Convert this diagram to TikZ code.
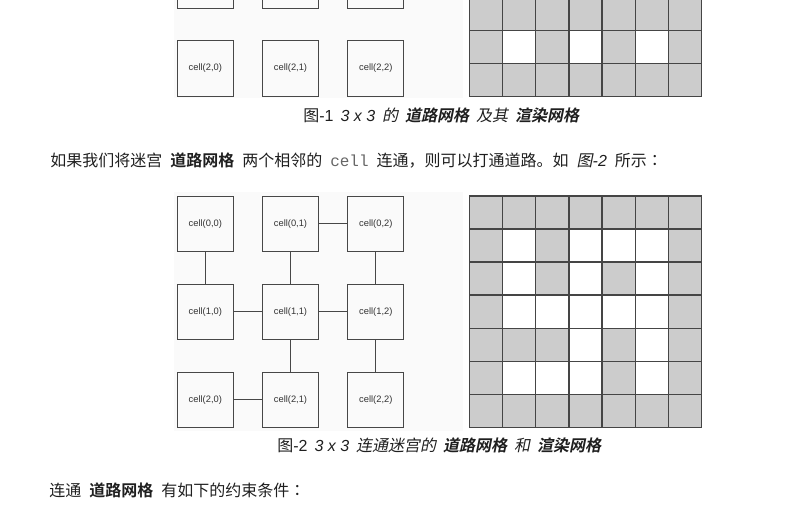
\documentclass[tikz,border=0pt]{standalone}
\usepackage{fontspec}
\setmainfont{Liberation Sans}
\newfontfamily\cjk{Noto Sans CJK SC}[BoldFont={Noto Sans CJK SC Bold}, ItalicFont={Noto Sans CJK SC}, ItalicFeatures={FakeSlant=0.2}, BoldItalicFont={Noto Sans CJK SC Bold}, BoldItalicFeatures={FakeSlant=0.2}]
\newfontfamily\cjktc{Noto Sans CJK TC}
\newfontfamily\latin{Liberation Sans}
\newfontfamily\mono{Liberation Mono}
\newcommand\zh[1]{{\cjk #1}}
\newcommand\capgap{\hspace{5.25pt}}
\newcommand\pgap{\hspace{6pt}}
\newcommand\zhcolon{{\cjktc ：}}
\definecolor{gridfill}{HTML}{CCCCCC}
\definecolor{gridline}{HTML}{454545}
\begin{document}
\begin{tikzpicture}[x=0.75pt,y=-0.75pt,
  cellbox/.style={draw=black!72, line width=0.8pt, minimum width=42pt, minimum height=41.5pt, inner sep=0pt, font=\latin\fontsize{7}{8}\selectfont, text=black!80},
  link/.style={draw=black!72, line width=0.75pt},
  gline/.style={draw=gridline, line width=1pt},
  txt/.style={anchor=west, inner sep=0pt, text=black!88, font=\fontsize{12}{14}\selectfont}]
\useasboundingbox (0,0) rectangle (812,508);
\fill[black!2] (174,0) rectangle (463,98);
\fill[black!2] (174,192) rectangle (463,431);

% ---------- figure 1, road grid (bottom rows only visible)
\foreach \c/\x in {0/205.3,1/290.5,2/375.8}{
  \node[cellbox] (a1\c) at (\x,-19.5) {};
  \node[cellbox] (a2\c) at (\x,68.5) {cell(2,\c)};
}

% ---------- figure 1, render grid
\fill[gridfill] (469.3,-134.65) rectangle (701.7,96.7);
\foreach \r/\c in {5/1,5/3,5/5}
  \fill[white] ({469.3+\c*33.2},{-134.65+\r*33.05}) rectangle ++(33.2,33.05);
\foreach \i in {0,...,7}{
  \draw[gline] ({469.3+\i*33.2},-134.65) -- ++(0,231.35);
  \draw[gline] (469.3,{-134.65+\i*33.05}) -- ++(232.4,0);
}

% ---------- figure 2, road grid
\foreach \r/\y in {0/223.8,1/311.8,2/399.8}{
  \foreach \c/\x in {0/205.3,1/290.5,2/375.8}{
    \node[cellbox] (b\r\c) at (\x,\y) {cell(\r,\c)};
  }
}
\foreach \u/\v in {b00/b10,b01/b02,b01/b11,b02/b12,b10/b11,b11/b12,b11/b21,b12/b22,b20/b21}
  \draw[link] (\u) -- (\v);

% ---------- figure 2, render grid
\fill[gridfill] (469.3,196) rectangle (701.7,427.35);
\foreach \r/\c in {1/1,1/3,1/4,1/5,2/1,2/3,2/5,3/1,3/2,3/3,3/4,3/5,4/3,4/5,5/1,5/2,5/3,5/5}
  \fill[white] ({469.3+\c*33.2},{196+\r*33.05}) rectangle ++(33.2,33.05);
\foreach \i in {0,...,7}{
  \draw[gline] ({469.3+\i*33.2},196) -- ++(0,231.35);
  \draw[gline] (469.3,{196+\i*33.05}) -- ++(232.4,0);
}

% ---------- texts
\node[txt] (cap1) at (303,115) {\zh{图}-1\capgap\itshape 3 x 3\capgap\zh{的\capgap\bfseries 道路网格\capgap\mdseries 及其\capgap\bfseries 渲染网格}};
\node[txt] (para) at (50,160) {\cjk 如果我们将迷宫\pgap\textbf{道路网格}\pgap 两个相邻的\pgap{\mono\fontsize{12}{14}\selectfont\color{black!60}cell}\pgap 连通，则可以打通道路。如\pgap\textit{图{\latin -2}}\pgap 所示\zhcolon};
\node[txt] (cap2) at (277,445) {\zh{图}-2\capgap\itshape 3 x 3\capgap\zh{连通迷宫的\capgap\bfseries 道路网格\capgap\mdseries 和\capgap\bfseries 渲染网格}};
\node[txt] (last) at (49,490) {\cjk 连通\pgap\textbf{道路网格}\pgap 有如下的约束条件\zhcolon};
\end{tikzpicture}
\end{document}
